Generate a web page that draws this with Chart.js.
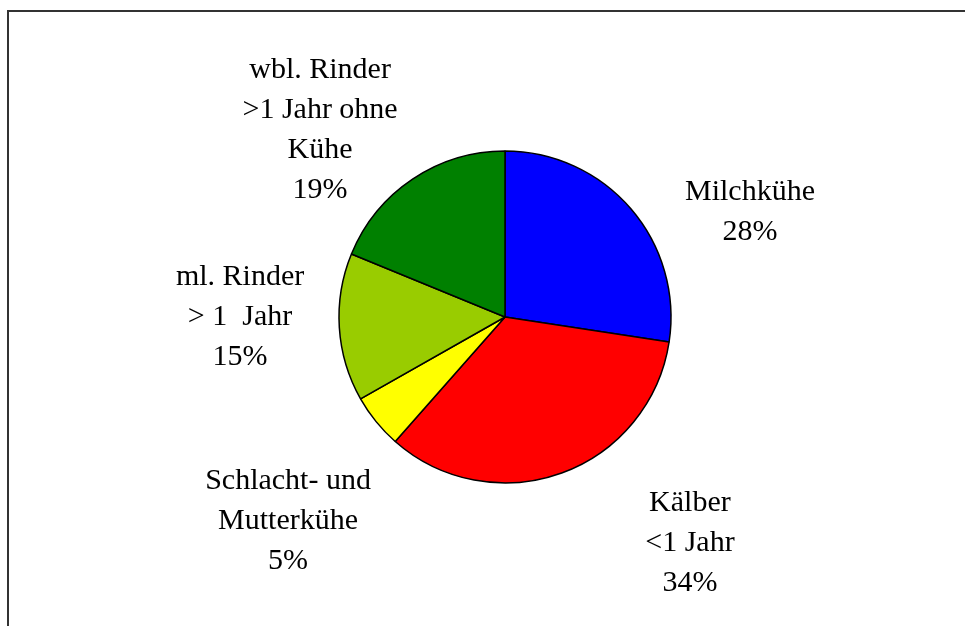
<!DOCTYPE html>
<html>
<head>
<meta charset="utf-8">
<script src="https://cdn.jsdelivr.net/npm/chart.js@4/dist/chart.umd.min.js"></script>
<style>
  html, body { margin: 0; padding: 0; background: #fff; }
  #wrap { position: relative; width: 965px; height: 626px; }
  #frame {
    position: absolute; left: 7px; top: 10px; right: 0; bottom: 0;
    border-top: 2px solid #333; border-left: 2px solid #333;
  }
  canvas { position: absolute; left: 0; top: 0; }
</style>
</head>
<body>
<div id="wrap">
  <div id="frame"></div>
  <canvas id="pie" width="965" height="626"></canvas>
</div>
<script>
// data (slice shares, clockwise from 12 o'clock)
const categories = [
  ["Milchkühe"],
  ["Kälber", "<1 Jahr"],
  ["Schlacht- und", "Mutterkühe"],
  ["ml. Rinder", "> 1  Jahr"],
  ["wbl. Rinder", ">1 Jahr ohne", "Kühe"]
];
const shares = [27.4, 34.1, 5.3, 14.4, 18.8];
const percentLabels = ["28%", "34%", "5%", "15%", "19%"];
const sliceColors = ["#0000ff", "#ff0000", "#ffff00", "#99cc00", "#008000"];

// label anchors, in units of the pie radius from its centre
const labelOffsets = [
  [1.476, -0.633],
  [1.114, 1.361],
  [-1.307, 1.229],
  [-1.596, 0.0],
  [-1.114, -1.127]
];

const outsideLabels = {
  id: "outsideLabels",
  afterDraw(chart) {
    const ctx = chart.ctx;
    const arc = chart.getDatasetMeta(0).data[0];
    const cx = arc.x, cy = arc.y, r = arc.outerRadius;
    ctx.save();
    ctx.font = '30px "Liberation Serif", "Times New Roman", serif';
    ctx.fillStyle = "#000";
    ctx.textAlign = "center";
    ctx.textBaseline = "middle";
    const lh = 40;
    categories.forEach((lines, i) => {
      const all = lines.concat([percentLabels[i]]);
      const x = cx + labelOffsets[i][0] * r;
      const y0 = cy + labelOffsets[i][1] * r - (all.length - 1) * lh / 2;
      all.forEach((t, k) => ctx.fillText(t, x, y0 + k * lh));
    });
    ctx.restore();
  }
};

new Chart(document.getElementById("pie"), {
  type: "pie",
  data: {
    labels: categories.map((c) => c.join(" ")),
    datasets: [{
      data: shares,
      backgroundColor: sliceColors,
      borderColor: "#000",
      borderWidth: 1.5
    }]
  },
  options: {
    responsive: false,
    animation: false,
    radius: 166,
    layout: { padding: { left: 45, right: 0, top: 8, bottom: 0 } },
    plugins: {
      legend: { display: false },
      tooltip: { enabled: false }
    }
  },
  plugins: [outsideLabels]
});
</script>
</body>
</html>
